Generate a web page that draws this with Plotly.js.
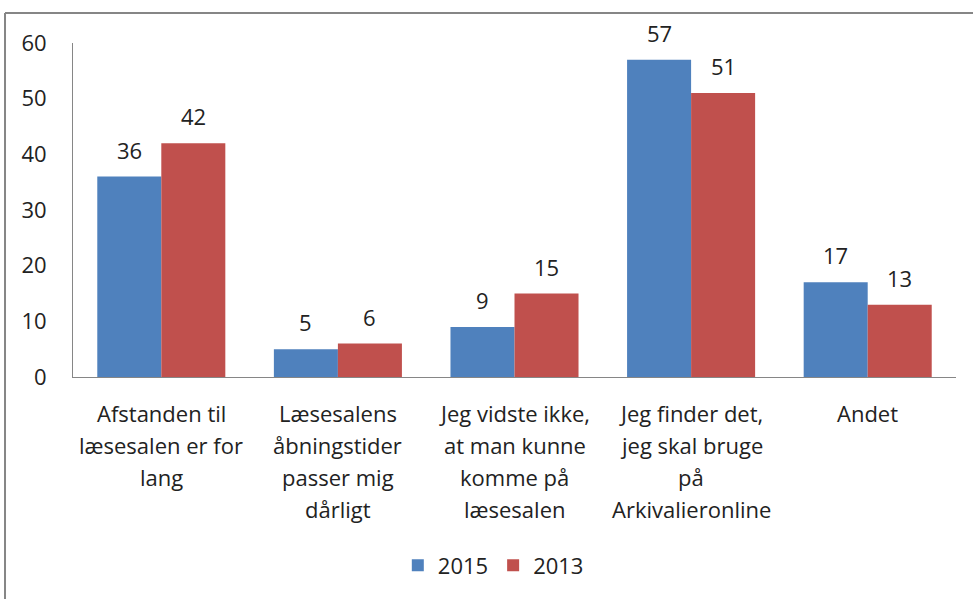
<!DOCTYPE html>
<html><head><meta charset="utf-8">
<script src="https://cdn.plot.ly/plotly-3.0.1.min.js"></script>
<style>html,body{margin:0;padding:0;background:#fff}#chart{width:973px;height:599px}</style>
</head><body><div id="chart"></div>
<script>
const categories = [
  "Afstanden til<br>læsesalen er for<br>lang",
  "Læsesalens<br>åbningstider<br>passer mig<br>dårligt",
  "Jeg vidste ikke,<br>at man kunne<br>komme på<br>læsesalen",
  "Jeg finder det,<br>jeg skal bruge<br>på<br>Arkivalieronline",
  "Andet"
];
const values2015 = [36, 5, 9, 57, 17];
const values2013 = [42, 6, 15, 51, 13];
const seriesNames = ["2015", "2013"];
const yTicks = [0, 10, 20, 30, 40, 50, 60];

const FONT = "Open Sans, Noto Sans, sans-serif";
const TXT = "#222222";
const FS = 22;
const BARGAP = 0.275;
const half = (1 - BARGAP) / 4;

const traces = [
  {type: "bar", name: seriesNames[0], x: categories, y: values2015,
   marker: {color: "#4F81BD"}, hoverinfo: "none"},
  {type: "bar", name: seriesNames[1], x: categories, y: values2013,
   marker: {color: "#C0504D"}, hoverinfo: "none"}
];

const annotations = [];
categories.forEach((c, ci) => {
  c.split("<br>").forEach((line, i) => {
    annotations.push({x: ci, xref: "x", y: 0, yref: "paper", yanchor: "middle",
      yshift: -(36 + 32 * i), text: line, showarrow: false,
      font: {family: FONT, size: FS, color: TXT}});
  });
  [values2015, values2013].forEach((vals, si) => {
    annotations.push({x: ci + (si === 0 ? -half : half), xref: "x", y: vals[ci], yref: "y",
      yanchor: "middle", yshift: 27, text: String(vals[ci]), showarrow: false,
      font: {family: FONT, size: FS, color: TXT}});
  });
});

const layout = {
  width: 973, height: 599,
  margin: {l: 73, r: 17, t: 43, b: 222},
  paper_bgcolor: "#fff", plot_bgcolor: "#fff",
  barmode: "group", bargap: BARGAP, bargroupgap: 0,
  font: {family: FONT, size: FS, color: TXT},
  xaxis: {type: "category", showticklabels: false, showline: true, linecolor: "#868686",
    linewidth: 1, ticks: "", showgrid: false, zeroline: false, fixedrange: true},
  yaxis: {range: [0, 60], tickvals: yTicks, ticktext: yTicks.map(String), showline: true,
    linecolor: "#868686", linewidth: 1, ticks: "", showgrid: false, zeroline: false,
    ticklabelstandoff: 21, tickfont: {family: FONT, size: FS, color: TXT}},
  showlegend: true,
  legend: {orientation: "h", x: 0.476, xanchor: "center", y: -0.564, yanchor: "middle",
    font: {family: FONT, size: FS, color: TXT}, itemwidth: 30, traceorder: "normal"},
  annotations: annotations,
  shapes: [
    {type: "line", xref: "paper", yref: "paper", x0: -0.077, x1: 1.03, y0: 1.09, y1: 1.09,
     line: {color: "#868686", width: 2}},
    {type: "line", xref: "paper", yref: "paper", x0: -0.077, x1: -0.077, y0: 1.09, y1: -0.7,
     line: {color: "#868686", width: 2}}
  ]
};

Plotly.newPlot("chart", traces, layout, {displayModeBar: false, staticPlot: true});
</script></body></html>
